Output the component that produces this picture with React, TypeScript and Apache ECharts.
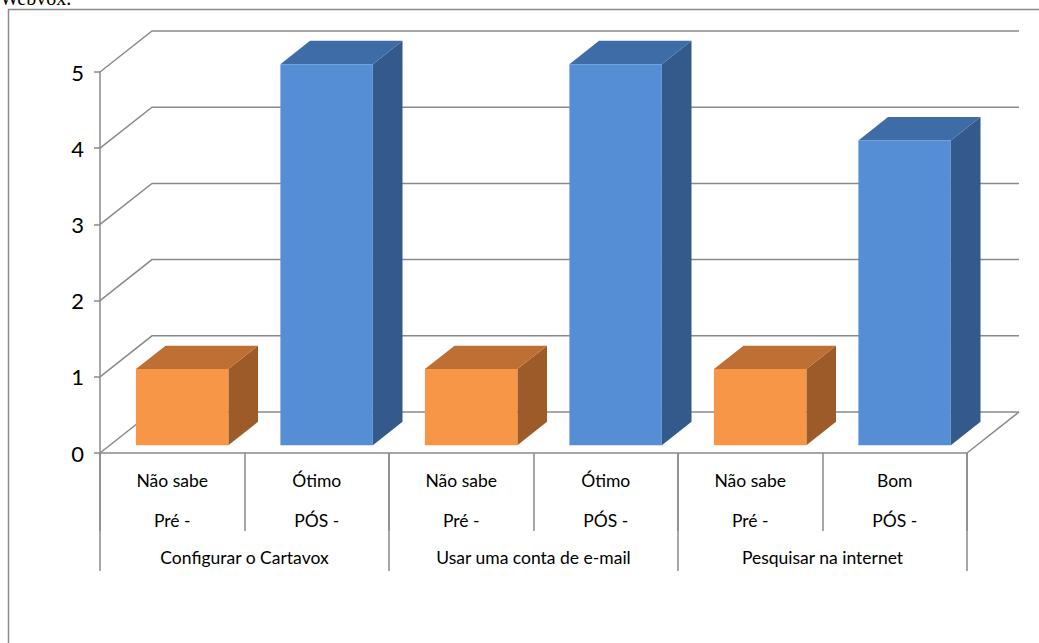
import React, { useEffect, useRef } from "react";
import * as echarts from "echarts";

const ratings = ["Não sabe", "Ótimo", "Não sabe", "Ótimo", "Não sabe", "Bom"];
const phases = ["Pré -", "PÓS -", "Pré -", "PÓS -", "Pré -", "PÓS -"];
const groups = ["Configurar o Cartavox", "Usar uma conta de e-mail", "Pesquisar na internet"];
const values = [1, 5, 1, 5, 1, 4];
const yTicks = [0, 1, 2, 3, 4, 5];

const DX = 52;
const DY = -41;
const F0 = 0.19;
const F1 = 0.76;
const BAR_RATIO = 0.64;
const GRID_COLOR = "#8a8a8a";

const COLORS: Record<string, { front: string; top: string; side: string }> = {
  pre: { front: "#F79646", top: "#BE7034", side: "#9C5B28" },
  pos: { front: "#558ED5", top: "#3D6CA6", side: "#335A8A" },
};

export default function App() {
  const ref = useRef<HTMLDivElement>(null);
  useEffect(() => {
    if (!ref.current) return;
    const chart = echarts.init(ref.current, null, { renderer: "svg" });
    const option: any = {
      animation: false,
      backgroundColor: "#ffffff",
      grid: { left: 100, right: 72, top: 72, bottom: 190, containLabel: false },
      graphic: [
        {
          type: "rect",
          shape: { x: 8.5, y: 9.5, width: 1100, height: 700 },
          style: { fill: "none", stroke: GRID_COLOR, lineWidth: 1.5 },
          z: -10,
        },
        {
          type: "text",
          x: 0,
          y: 8,
          style: {
            text: "Webvox.",
            font: '20px "Liberation Serif"',
            fill: "#000",
            verticalAlign: "bottom",
          },
        },
      ],
      xAxis: [
        {
          type: "category",
          data: ratings,
          position: "bottom",
          boundaryGap: true,
          axisLine: { show: true, lineStyle: { color: GRID_COLOR, width: 1.5 } },
          axisTick: { show: true, interval: 0, length: 78, lineStyle: { color: GRID_COLOR, width: 1.5 } },
          axisLabel: {
            interval: 0,
            margin: 7,
            fontSize: 17.5,
            lineHeight: 40,
            color: "#000",
            fontFamily: "Lato",
            formatter: (v: string, i: number) => `${v}\n${phases[i]}`,
          },
          splitLine: { show: false },
        },
        {
          type: "category",
          data: groups,
          position: "bottom",
          boundaryGap: true,
          axisLine: { show: false },
          axisTick: { show: true, interval: 0, length: 118, lineStyle: { color: GRID_COLOR, width: 1.5 } },
          axisLabel: {
            interval: 0,
            margin: 94,
            fontSize: 17.5,
            lineHeight: 20,
            color: "#000",
            fontFamily: "Lato",
          },
          splitLine: { show: false },
        },
      ],
      yAxis: {
        type: "value",
        min: 0,
        max: 5,
        interval: 1,
        axisLine: { show: true, lineStyle: { color: GRID_COLOR, width: 1.5 } },
        axisTick: { show: true, length: 6, lineStyle: { color: GRID_COLOR, width: 1.5 } },
        axisLabel: { margin: 16, fontSize: 22, color: "#000", fontFamily: "Lato" },
        splitLine: { show: false },
      },
      series: [
        {
          type: "custom",
          name: "walls",
          xAxisIndex: 0,
          clip: false,
          silent: true,
          z: 1,
          data: yTicks.map((v) => [0, v]),
          encode: { x: 0, y: 1 },
          renderItem: (params: any, api: any) => {
            const cs = params.coordSys;
            const v = api.value(1);
            const y = api.coord([0, v])[1];
            const left = cs.x;
            const right = cs.x + cs.width;
            const children: any[] = [
              {
                type: "polyline",
                shape: {
                  points: [
                    [left, y],
                    [left + DX, y + DY],
                    [right + DX, y + DY],
                  ],
                },
                style: { stroke: GRID_COLOR, lineWidth: 1.5, fill: "none" },
              },
            ];
            if (v === 0) {
              children.push({
                type: "line",
                shape: { x1: right, y1: y, x2: right + DX, y2: y + DY },
                style: { stroke: GRID_COLOR, lineWidth: 1.5 },
              });
            }
            return { type: "group", children };
          },
        },
        {
          type: "custom",
          name: "bars",
          xAxisIndex: 0,
          clip: false,
          z: 2,
          data: values.map((v, i) => [i, v]),
          encode: { x: 0, y: 1 },
          renderItem: (params: any, api: any) => {
            const idx = api.value(0);
            const val = api.value(1);
            const topPt = api.coord([idx, val]);
            const botPt = api.coord([idx, 0]);
            const band = api.size([1, 0])[0];
            const w = band * BAR_RATIO;
            const c = phases[idx].startsWith("Pré") ? COLORS.pre : COLORS.pos;
            const x0 = topPt[0] - w / 2 + F0 * DX;
            const x1 = x0 + w;
            const yT = topPt[1] + F0 * DY;
            const yB = botPt[1] + F0 * DY;
            const ddx = (F1 - F0) * DX;
            const ddy = (F1 - F0) * DY;
            return {
              type: "group",
              children: [
                {
                  type: "polygon",
                  shape: { points: [[x1, yT], [x1 + ddx, yT + ddy], [x1 + ddx, yB + ddy], [x1, yB]] },
                  style: { fill: c.side },
                },
                {
                  type: "polygon",
                  shape: { points: [[x0, yT], [x1, yT], [x1 + ddx, yT + ddy], [x0 + ddx, yT + ddy]] },
                  style: { fill: c.top },
                },
                {
                  type: "rect",
                  shape: { x: x0, y: yT, width: w, height: yB - yT },
                  style: { fill: c.front },
                },
              ],
            };
          },
        },
      ],
    };
    chart.setOption(option);
    return () => chart.dispose();
  }, []);
  return (
    <div
      ref={ref}
      style={{ position: "absolute", left: 0, top: 0, width: 1039, height: 643 }}
    />
  );
}
